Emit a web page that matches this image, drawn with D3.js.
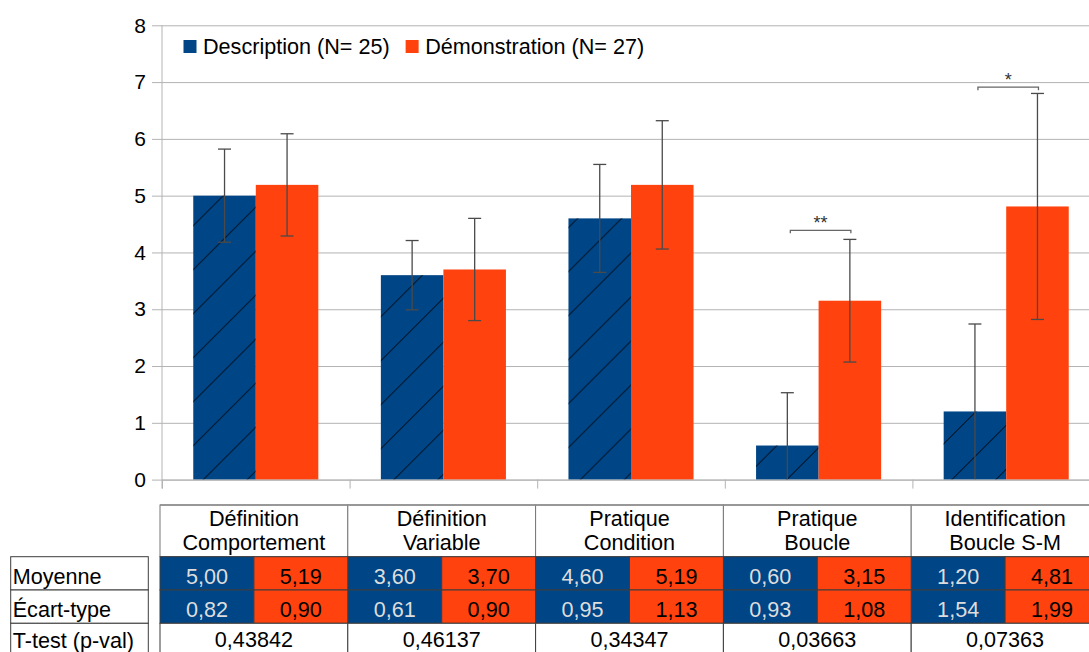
<!DOCTYPE html>
<html>
<head>
<meta charset="utf-8">
<script src="https://cdn.jsdelivr.net/npm/d3@7"></script>
<style>
  body { margin: 0; background: #fff; }
  svg { display: block; font-family: "Liberation Sans", Arial, sans-serif; }
</style>
</head>
<body>
<script>
// chart data
const categories = [
  ["Définition", "Comportement"],
  ["Définition", "Variable"],
  ["Pratique", "Condition"],
  ["Pratique", "Boucle"],
  ["Identification", "Boucle S-M"]
];
const descMean = [5.00, 3.60, 4.60, 0.60, 1.20];
const demoMean = [5.19, 3.70, 5.19, 3.15, 4.81];
const descSd = [0.82, 0.61, 0.95, 0.93, 1.54];
const demoSd = [0.90, 0.90, 1.13, 1.08, 1.99];
const pValues = ["0,43842", "0,46137", "0,34347", "0,03663", "0,07363"];
const rowLabels = ["Moyenne", "Écart-type", "T-test (p-val)"];
const yTicks = [0, 1, 2, 3, 4, 5, 6, 7, 8];
// significance brackets: category index, height (y units), label
const brackets = [
  { cat: 3, value: 4.39, label: "**" },
  { cat: 4, value: 6.91, label: "*" }
];

const series = [
  { key: "desc", name: "Description (N= 25)", color: "#004586", text: "#dddddd", mean: descMean, sd: descSd, hatch: true },
  { key: "demo", name: "Démonstration (N= 27)", color: "#ff420e", text: "#000000", mean: demoMean, sd: demoSd, hatch: false }
];

const width = 1089, height = 652;
const fs = 21.6;
const fmt = v => v.toFixed(2).replace(".", ",");

const svg = d3.select("body").append("svg")
  .attr("width", width)
  .attr("height", height);

const x0 = d3.scaleBand()
  .domain(d3.range(categories.length))
  .range([162, 1100]);
const x1 = d3.scaleBand()
  .domain(series.map(s => s.key))
  .range([0, x0.bandwidth()])
  .paddingOuter(0.5);
const y = d3.scaleLinear()
  .domain([0, 8])
  .range([479.6, 25.3]);

// grid + y axis
const gy = svg.append("g")
  .attr("transform", "translate(162,0)")
  .call(d3.axisLeft(y).tickValues(yTicks).tickSizeInner(10).tickSizeOuter(0).tickPadding(6));
gy.select(".domain").remove();
gy.selectAll(".tick line")
  .attr("x1", width - 162)
  .attr("stroke", "#b3b3b3");
gy.selectAll(".tick text")
  .attr("font-size", 21)
  .attr("font-family", "Liberation Sans, Arial, sans-serif")
  .attr("fill", "#000");

// bars
const defs = svg.append("defs");
const cat = svg.append("g").selectAll("g")
  .data(categories)
  .join("g")
  .attr("transform", (d, i) => `translate(${x0(i)},0)`);

series.forEach(s => {
  cat.append("rect")
    .attr("x", x1(s.key))
    .attr("y", (d, i) => y(s.mean[i]))
    .attr("width", x1.bandwidth())
    .attr("height", (d, i) => y(0) - y(s.mean[i]))
    .attr("fill", s.color);

  if (s.hatch) {
    // hatch pattern anchored on each bar's top-left corner
    cat.each(function (d, i) {
      const bx = x0(i) + x1(s.key), by = y(s.mean[i]);
      defs.append("pattern")
        .attr("id", `hatch-${s.key}-${i}`)
        .attr("patternUnits", "userSpaceOnUse")
        .attr("x", bx).attr("y", by)
        .attr("width", 44).attr("height", 44)
        .append("path")
        .attr("d", "M-11,11L11,-11M0,44L44,0M33,55L55,33")
        .attr("stroke", "#000")
        .attr("stroke-width", 1);
      d3.select(this).append("rect")
        .attr("x", x1(s.key))
        .attr("y", by)
        .attr("width", x1.bandwidth())
        .attr("height", y(0) - by)
        .attr("fill", `url(#hatch-${s.key}-${i})`);
    });
  }
});

// error bars
const cap = 6.5;
series.forEach(s => {
  const g = cat.append("g")
    .attr("stroke", "#4a4a4a")
    .attr("stroke-width", 1.3)
    .attr("fill", "none");
  const cx = x1(s.key) + x1.bandwidth() / 2;
  g.append("line")
    .attr("x1", cx).attr("x2", cx)
    .attr("y1", (d, i) => y(s.mean[i] + s.sd[i]))
    .attr("y2", (d, i) => y(Math.max(0, s.mean[i] - s.sd[i])));
  g.append("line")
    .attr("x1", cx - cap).attr("x2", cx + cap)
    .attr("y1", (d, i) => y(s.mean[i] + s.sd[i]))
    .attr("y2", (d, i) => y(s.mean[i] + s.sd[i]));
  g.filter((d, i) => s.mean[i] - s.sd[i] >= 0)
    .append("line")
    .attr("x1", cx - cap).attr("x2", cx + cap)
    .attr("y1", (d, i) => y(s.mean[i] - s.sd[i]))
    .attr("y2", (d, i) => y(s.mean[i] - s.sd[i]));
});

// axes lines
svg.append("line")
  .attr("x1", 162).attr("x2", 162)
  .attr("y1", y(8)).attr("y2", y(0) + 9)
  .attr("stroke", "#b3b3b3");
const gx = svg.append("g")
  .attr("transform", `translate(0,${y(0)})`)
  .call(d3.axisBottom(d3.scaleLinear().domain([0, categories.length]).range([162, 1100]))
    .ticks(categories.length).tickFormat("").tickSize(9).tickSizeOuter(0));
gx.selectAll("line, path").attr("stroke", "#b3b3b3");

// legend
const legend = svg.append("g").attr("font-size", fs);
let lx = 183.5;
series.forEach(s => {
  legend.append("rect")
    .attr("x", lx).attr("y", 40)
    .attr("width", 13).attr("height", 13)
    .attr("fill", s.color);
  const t = legend.append("text")
    .attr("x", lx + 19.5).attr("y", 53.5)
    .attr("fill", "#000")
    .text(s.name);
  lx += 19.5 + t.node().getComputedTextLength() + 16;
});

// significance brackets
const br = svg.append("g");
brackets.forEach(b => {
  const xa = x0(b.cat) + x1("desc") + x1.bandwidth() / 2 + 3;
  const xb = x0(b.cat) + x1("demo") + x1.bandwidth() / 2 + 1;
  const yb = y(b.value);
  br.append("path")
    .attr("d", `M${xa},${yb + 3}V${yb}H${xb}V${yb + 3}`)
    .attr("fill", "none")
    .attr("stroke", "#666")
    .attr("stroke-width", 1.3);
  br.append("text")
    .attr("x", (xa + xb) / 2).attr("y", yb - 1)
    .attr("text-anchor", "middle")
    .attr("font-size", 18)
    .attr("fill", "#333")
    .text(b.label);
});

// table under the chart
const tx = d3.scaleBand().domain(d3.range(categories.length)).range([160, 1099]);
const sx = d3.scaleBand().domain(series.map(s => s.key)).range([0, tx.bandwidth()]);
const tableTop = 505, headH = 51.7, rowH = 33.3;
const rowY = i => tableTop + headH + i * rowH;
const table = svg.append("g").attr("font-size", fs);
const border = "#3c3c3c";

// header cells
const head = table.selectAll(".head")
  .data(categories)
  .join("g")
  .attr("class", "head")
  .attr("transform", (d, i) => `translate(${tx(i)},${tableTop})`);
head.append("rect")
  .attr("width", tx.bandwidth()).attr("height", headH)
  .attr("fill", "#fff").attr("stroke", "#777");
head.append("text")
  .attr("x", tx.bandwidth() / 2).attr("y", 21)
  .attr("text-anchor", "middle")
  .text(d => d[0]);
head.append("text")
  .attr("x", tx.bandwidth() / 2).attr("y", 45)
  .attr("text-anchor", "middle")
  .text(d => d[1]);

// mean and sd rows
[["mean", 0], ["sd", 1]].forEach(([field, r]) => {
  series.forEach(s => {
    const cells = table.append("g").selectAll("g")
      .data(s[field])
      .join("g")
      .attr("transform", (d, i) => `translate(${tx(i) + sx(s.key)},${rowY(r)})`);
    cells.append("rect")
      .attr("width", sx.bandwidth()).attr("height", rowH)
      .attr("fill", s.color).attr("stroke", border);
    cells.append("text")
      .attr("x", sx.bandwidth() / 2).attr("y", 27.3)
      .attr("text-anchor", "middle")
      .attr("fill", s.text)
      .text(d => fmt(d));
  });
});

// p-value row
const pc = table.append("g").selectAll("g")
  .data(pValues)
  .join("g")
  .attr("transform", (d, i) => `translate(${tx(i)},${rowY(2)})`);
pc.append("rect")
  .attr("width", tx.bandwidth()).attr("height", rowH)
  .attr("fill", "#fff").attr("stroke", border);
pc.append("text")
  .attr("x", tx.bandwidth() / 2).attr("y", 24)
  .attr("text-anchor", "middle")
  .text(d => d);

// row labels
const lc = table.append("g").selectAll("g")
  .data(rowLabels)
  .join("g")
  .attr("transform", (d, i) => `translate(10.7,${rowY(i)})`);
lc.append("rect")
  .attr("width", 137.6).attr("height", rowH)
  .attr("fill", "#fff").attr("stroke", border);
lc.append("text")
  .attr("x", 2).attr("y", (d, i) => i < 2 ? 27.3 : 25)
  .text(d => d);

// heavier top rule of the header
table.append("line")
  .attr("x1", 160).attr("x2", 1100)
  .attr("y1", tableTop).attr("y2", tableTop)
  .attr("stroke", "#8c8c8c").attr("stroke-width", 1.5);
</script>
</body>
</html>
